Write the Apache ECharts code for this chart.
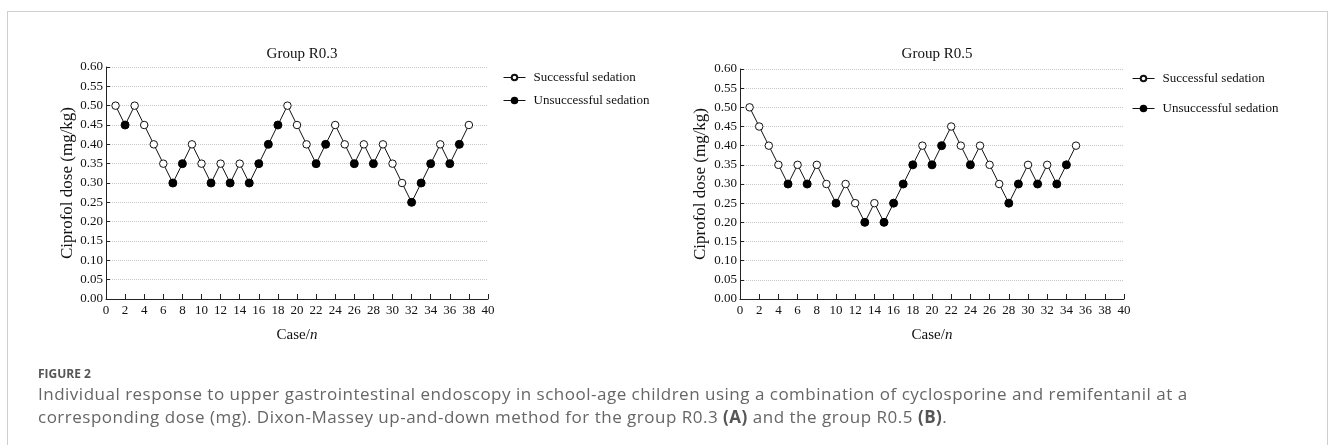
<!DOCTYPE html>
<html>
<head>
<meta charset="utf-8">
<title>Figure 2</title>
<script src="https://cdn.jsdelivr.net/npm/echarts@6/dist/echarts.min.js"></script>
<style>
    html, body { margin: 0; padding: 0; background: #fff; }
    #page { position: relative; width: 1330px; height: 445px; overflow: hidden; }
    #frame { position: absolute; left: 7px; top: 11px; width: 1321px; height: 460px; border: 1px solid #cfcfcf; box-sizing: border-box; }
    #chart { position: absolute; left: 0; top: 0; width: 1330px; height: 445px; }
    #caption { position: absolute; left: 38px; top: 365px; font-family: "Open Sans", sans-serif; color: #666; white-space: nowrap; }
    #caption .fig { font-size: 12px; font-weight: 700; color: #555; line-height: 17px; }
    #caption .txt { font-size: 17px; line-height: 23px; letter-spacing: 0.5px; }
    #caption .txt b { color: #555; }
</style>
</head>
<body>
<div id="page">
    <div id="frame"></div>
    <div id="chart"></div>
    <div id="caption">
        <div class="fig">FIGURE 2</div>
        <div class="txt">Individual response to upper gastrointestinal endoscopy in school-age children using a combination of cyclosporine and remifentanil at a<br>corresponding dose (mg). Dixon-Massey up-and-down method for the group R0.3 <b>(A)</b> and the group R0.5 <b>(B)</b>.</div>
    </div>
</div>
<script type="text/javascript">
    // Group R0.3: dose per case, outcome 1 = successful, 0 = unsuccessful
    var doseA = [0.50, 0.45, 0.50, 0.45, 0.40, 0.35, 0.30, 0.35, 0.40, 0.35,
                 0.30, 0.35, 0.30, 0.35, 0.30, 0.35, 0.40, 0.45, 0.50, 0.45,
                 0.40, 0.35, 0.40, 0.45, 0.40, 0.35, 0.40, 0.35, 0.40, 0.35,
                 0.30, 0.25, 0.30, 0.35, 0.40, 0.35, 0.40, 0.45];
    var outcomeA = [1, 0, 1, 1, 1, 1, 0, 0, 1, 1,
                    0, 1, 0, 1, 0, 0, 0, 0, 1, 1,
                    1, 0, 0, 1, 1, 0, 1, 0, 1, 1,
                    1, 0, 0, 0, 1, 0, 0, 1];
    // Group R0.5
    var doseB = [0.50, 0.45, 0.40, 0.35, 0.30, 0.35, 0.30, 0.35, 0.30, 0.25,
                 0.30, 0.25, 0.20, 0.25, 0.20, 0.25, 0.30, 0.35, 0.40, 0.35,
                 0.40, 0.45, 0.40, 0.35, 0.40, 0.35, 0.30, 0.25, 0.30, 0.35,
                 0.30, 0.35, 0.30, 0.35, 0.40];
    var outcomeB = [1, 1, 1, 1, 0, 1, 0, 1, 1, 0,
                    1, 1, 0, 1, 0, 0, 0, 0, 1, 0,
                    0, 1, 1, 0, 1, 1, 1, 0, 0, 1,
                    0, 1, 0, 0, 1];
    var titles = ['Group R0.3', 'Group R0.5'];
    var xTicks = [0, 40, 2];      // min, max, interval
    var yTicks = [0, 0.6, 0.05];
    var legendNames = ['Successful sedation', 'Unsuccessful sedation'];

    var serif = '"Liberation Serif", "Times New Roman", serif';

    function points(dose, outcome, want) {
        var arr = [];
        for (var i = 0; i < dose.length; i++) {
            if (want === undefined || outcome[i] === want) {
                arr.push([i + 1, dose[i]]);
            }
        }
        return arr;
    }

    function makeAxes(idx, yGap) {
        var x = {
            type: 'value', gridIndex: idx, min: xTicks[0], max: xTicks[1], interval: xTicks[2],
            name: '{a|Case/}{b|n}', nameLocation: 'middle', nameGap: 29,
            nameTextStyle: { rich: {
                a: { fontFamily: serif, fontSize: 15, color: '#111' },
                b: { fontFamily: serif, fontSize: 15, color: '#111', fontStyle: 'italic' }
            } },
            axisLine: { onZero: false, lineStyle: { color: '#222', width: 1 } },
            axisTick: { show: true, inside: true, length: 5, lineStyle: { color: '#222' } },
            axisLabel: { fontFamily: serif, fontSize: 13, color: '#111', margin: 5 },
            splitLine: { show: false }
        };
        var y = {
            type: 'value', gridIndex: idx, min: yTicks[0], max: yTicks[1], interval: yTicks[2],
            name: 'Ciprofol dose (mg/kg)', nameLocation: 'middle', nameGap: yGap,
            nameTextStyle: { fontFamily: serif, fontSize: 17, color: '#111' },
            axisLine: { show: true, lineStyle: { color: '#222', width: 1 } },
            axisTick: { show: true, inside: true, length: 4, lineStyle: { color: '#222' } },
            axisLabel: {
                fontFamily: serif, fontSize: 13, color: '#111', margin: 3,
                formatter: function (v) { return v.toFixed(2); }
            },
            splitLine: { show: true, lineStyle: { type: 'dotted', color: '#c8c8c8', width: 1 } }
        };
        return { x: x, y: y };
    }

    function makeSeries(idx, dose, outcome) {
        return [
            {
                name: 'dose', type: 'line', xAxisIndex: idx, yAxisIndex: idx,
                data: points(dose, outcome), showSymbol: false, silent: true,
                lineStyle: { color: '#111', width: 1 }, z: 2
            },
            {
                name: legendNames[0], type: 'line', xAxisIndex: idx, yAxisIndex: idx,
                data: points(dose, outcome, 1), symbol: 'circle', symbolSize: 7.5,
                lineStyle: { width: 0, opacity: 0 },
                itemStyle: { color: '#fff', borderColor: '#111', borderWidth: 1 }, z: 3
            },
            {
                name: legendNames[1], type: 'line', xAxisIndex: idx, yAxisIndex: idx,
                data: points(dose, outcome, 0), symbol: 'circle', symbolSize: 8,
                lineStyle: { width: 0, opacity: 0 },
                itemStyle: { color: '#000', borderColor: '#000', borderWidth: 1 }, z: 3
            }
        ];
    }

    function makeLegend(left, top, gap) {
        return {
            data: legendNames, orient: 'vertical', left: left, top: top, itemGap: gap,
            itemWidth: 22, itemHeight: 7, selectedMode: false, padding: 0,
            lineStyle: { color: '#111', width: 1, opacity: 1 },
            textStyle: { fontFamily: serif, fontSize: 13, color: '#111', padding: [0, 0, 0, 3] }
        };
    }

    var a = makeAxes(0, 26), b = makeAxes(1, 31);
    var myChart = echarts.init(document.getElementById('chart'));
    var option = {
        animation: false,
        title: [
            { text: titles[0], left: 297, top: 42, textAlign: 'center',
              textStyle: { fontFamily: serif, fontSize: 15, fontWeight: 'normal', color: '#111' } },
            { text: titles[1], left: 932, top: 42, textAlign: 'center',
              textStyle: { fontFamily: serif, fontSize: 15, fontWeight: 'normal', color: '#111' } }
        ],
        grid: [
            { left: 106, right: 842, top: 67, bottom: 146, containLabel: false },
            { left: 740, right: 206, top: 69, bottom: 146, containLabel: false }
        ],
        legend: [
            makeLegend(503, 71, 10),
            makeLegend(1132, 72, 17)
        ],
        xAxis: [a.x, b.x],
        yAxis: [a.y, b.y],
        series: makeSeries(0, doseA, outcomeA).concat(makeSeries(1, doseB, outcomeB))
    };
    myChart.setOption(option, true);
</script>
</body>
</html>
